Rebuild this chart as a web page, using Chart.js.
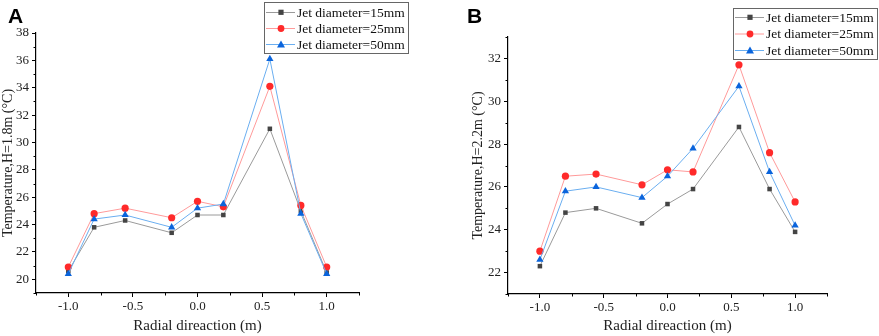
<!DOCTYPE html>
<html>
<head>
<meta charset="utf-8">
<script src="https://cdn.jsdelivr.net/npm/chart.js@4.4.1/dist/chart.umd.min.js"></script>
<style>
  html, body { margin:0; padding:0; background:#fff; }
  #wrap { position:relative; width:879px; height:336px; overflow:hidden; }
  .pane { position:absolute; top:0; height:336px; }
  .tag { position:absolute; font-family:"Liberation Sans", Arial, sans-serif; font-weight:bold; font-size:21px; color:#000; line-height:1; }
</style>
</head>
<body>
<div id="wrap">
  <div class="pane" style="left:0;width:440px;"><canvas id="cA" width="440" height="336"></canvas></div>
  <div class="pane" style="left:440px;width:439px;"><canvas id="cB" width="439" height="336"></canvas></div>
  <div class="tag" style="left:8px;top:5px;">A</div>
  <div class="tag" style="left:467px;top:5px;">B</div>
</div>
<script>
// ---- data ----
const radialPositions = [-1.0, -0.8, -0.56, -0.2, 0.0, 0.2, 0.56, 0.8, 1.0];
const seriesNames = ["Jet diameter=15mm", "Jet diameter=25mm", "Jet diameter=50mm"];

const tempA_15 = [20.6, 23.8, 24.3, 23.4, 24.7, 24.7, 31.0, 25.0, 20.5];
const tempA_25 = [20.9, 24.8, 25.2, 24.5, 25.7, 25.3, 34.1, 25.4, 20.9];
const tempA_50 = [20.4, 24.4, 24.7, 23.8, 25.2, 25.5, 36.1, 24.8, 20.4];

const tempB_15 = [22.3, 24.8, 25.0, 24.3, 25.2, 25.9, 28.8, 25.9, 23.9];
const tempB_25 = [23.0, 26.5, 26.6, 26.1, 26.8, 26.7, 31.7, 27.6, 25.3];
const tempB_50 = [22.6, 25.8, 26.0, 25.5, 26.5, 27.8, 30.7, 26.7, 24.2];

const xTicks = [-1.0, -0.5, 0.0, 0.5, 1.0];
const xMinorTicks = [-1.25, -0.75, -0.25, 0.25, 0.75, 1.25];
const yTicksA = [20, 22, 24, 26, 28, 30, 32, 34, 36, 38];
const yMinorA = [19, 21, 23, 25, 27, 29, 31, 33, 35, 37];
const yTicksB = [22, 24, 26, 28, 30, 32];
const yMinorB = [21, 23, 25, 27, 29, 31, 33];

const yTitleA = "Temperature,H=1.8m (\u00B0C)";
const yTitleB = "Temperature,H=2.2m (\u00B0C)";
const xTitle = "Radial direaction (m)";

// ---- styles ----
const styles = [
  { line:'#9a9a9a', point:'#444444', shape:'rect', radius:3.2, order:3 },
  { line:'#ff9a9a', point:'#ff2a2a', shape:'circle', radius:3.6, order:2 },
  { line:'#6aaef0', point:'#0a64dc', shape:'triangle', radius:4.2, order:1 }
];
const serif = '"Liberation Serif", "Times New Roman", serif';

function mkDatasets(arrs) {
  return arrs.map((arr, i) => ({
    label: seriesNames[i],
    data: radialPositions.map((x, j) => ({ x: x, y: arr[j] })),
    borderColor: styles[i].line,
    borderWidth: 1,
    backgroundColor: styles[i].point,
    pointBackgroundColor: styles[i].point,
    pointBorderColor: styles[i].point,
    pointBorderWidth: 0,
    pointStyle: styles[i].shape,
    pointRadius: styles[i].radius,
    tension: 0,
    order: styles[i].order
  }));
}

const minorTickPlugin = {
  id: 'minorTicks',
  afterDraw(chart, args, opts) {
    const ctx = chart.ctx;
    const xs = chart.scales.x, ys = chart.scales.y;
    ctx.save();
    ctx.strokeStyle = '#000';
    ctx.lineWidth = 1;
    ctx.beginPath();
    opts.xMinor.forEach(v => {
      const px = Math.round(xs.getPixelForValue(v)) + 0.5;
      ctx.moveTo(px, xs.top);
      ctx.lineTo(px, xs.top + 2.5);
    });
    opts.yMinor.forEach(v => {
      const py = Math.round(ys.getPixelForValue(v)) + 0.5;
      ctx.moveTo(ys.right, py);
      ctx.lineTo(ys.right - 2.5, py);
    });
    ctx.stroke();
    ctx.restore();
  }
};

const boxLegendPlugin = {
  id: 'boxLegend',
  afterDraw(chart, args, opts) {
    const ctx = chart.ctx;
    ctx.save();
    ctx.fillStyle = '#fff';
    ctx.fillRect(opts.x, opts.y, opts.w, opts.h);
    ctx.strokeStyle = '#666';
    ctx.lineWidth = 1;
    ctx.strokeRect(opts.x + 0.5, opts.y + 0.5, opts.w, opts.h);
    ctx.font = '13.5px ' + serif;
    ctx.textBaseline = 'middle';
    chart.data.datasets.forEach((ds, i) => {
      const cy = opts.y + opts.first + i * opts.step;
      ctx.strokeStyle = ds.borderColor;
      ctx.lineWidth = 1;
      ctx.beginPath();
      ctx.moveTo(opts.x + 2, cy + 0.5);
      ctx.lineTo(opts.x + 31, cy + 0.5);
      ctx.stroke();
      const cx = opts.x + 17;
      ctx.fillStyle = ds.pointBackgroundColor;
      const st = styles[i];
      ctx.beginPath();
      if (st.shape === 'rect') {
        ctx.fillRect(cx - 2.6, cy - 2.3, 5.2, 5.2);
      } else if (st.shape === 'circle') {
        ctx.arc(cx, cy + 0.5, 3.4, 0, Math.PI * 2);
        ctx.fill();
      } else {
        ctx.moveTo(cx, cy - 3.5);
        ctx.lineTo(cx + 4, cy + 3.5);
        ctx.lineTo(cx - 4, cy + 3.5);
        ctx.closePath();
        ctx.fill();
      }
      ctx.fillStyle = '#111';
      ctx.fillText(ds.label, opts.x + 33, cy + 1);
    });
    ctx.restore();
  }
};

function mkChart(id, arrs, cfg) {
  return new Chart(document.getElementById(id), {
    type: 'line',
    data: { datasets: mkDatasets(arrs) },
    plugins: [minorTickPlugin, boxLegendPlugin],
    options: {
      responsive: false,
      animation: false,
      events: [],
      layout: { padding: { left: cfg.padLeft, right: cfg.padRight, top: cfg.padTop, bottom: 0 } },
      plugins: {
        legend: { display: false },
        tooltip: { enabled: false },
        minorTicks: { xMinor: xMinorTicks, yMinor: cfg.yMinor },
        boxLegend: cfg.legend
      },
      scales: {
        x: {
          type: 'linear',
          min: -1.25, max: 1.25,
          afterBuildTicks: s => { s.ticks = xTicks.map(v => ({ value: v })); },
          afterFit: s => { s.height = cfg.xH; },
          ticks: {
            callback: v => v.toFixed(1),
            font: { family: serif, size: 13 },
            color: '#222',
            padding: 2,
            maxRotation: 0,
            autoSkip: false
          },
          grid: { display: true, drawOnChartArea: false, drawTicks: true, tickLength: 4, color: '#000', lineWidth: 1 },
          border: { display: true, color: '#000', width: 1.2 },
          title: { display: true, text: xTitle, font: { family: serif, size: 15 }, color: '#222', padding: { top: 0, bottom: 1 } }
        },
        y: {
          type: 'linear',
          min: cfg.yMin, max: cfg.yMax,
          afterBuildTicks: s => { s.ticks = cfg.yTicks.map(v => ({ value: v })); },
          afterFit: s => { s.width = cfg.yW; },
          ticks: {
            font: { family: serif, size: 13 },
            color: '#222',
            padding: 3,
            autoSkip: false
          },
          grid: { display: true, drawOnChartArea: false, drawTicks: true, tickLength: 4, color: '#000', lineWidth: 1 },
          border: { display: true, color: '#000', width: 1.2 },
          title: { display: true, text: cfg.yTitle, font: { family: serif, size: 14 }, color: '#222', padding: { top: 0, bottom: 0 } }
        }
      }
    }
  });
}

mkChart('cA', [tempA_15, tempA_25, tempA_50], {
  padLeft: 0, padRight: 81, padTop: 33, xH: 43, yW: 36,
  yMin: 19, yMax: 38, yTicks: yTicksA, yMinor: yMinorA, yTitle: yTitleA,
  legend: { x: 264, y: 2, w: 144, h: 51, first: 10, step: 16 }
});
mkChart('cB', [tempB_15, tempB_25, tempB_50], {
  padLeft: 30, padRight: 52, padTop: 37, xH: 42, yW: 38,
  yMin: 21, yMax: 33, yTicks: yTicksB, yMinor: yMinorB, yTitle: yTitleB,
  legend: { x: 293, y: 8, w: 144, h: 51, first: 9, step: 16.5 }
});
</script>
</body>
</html>
